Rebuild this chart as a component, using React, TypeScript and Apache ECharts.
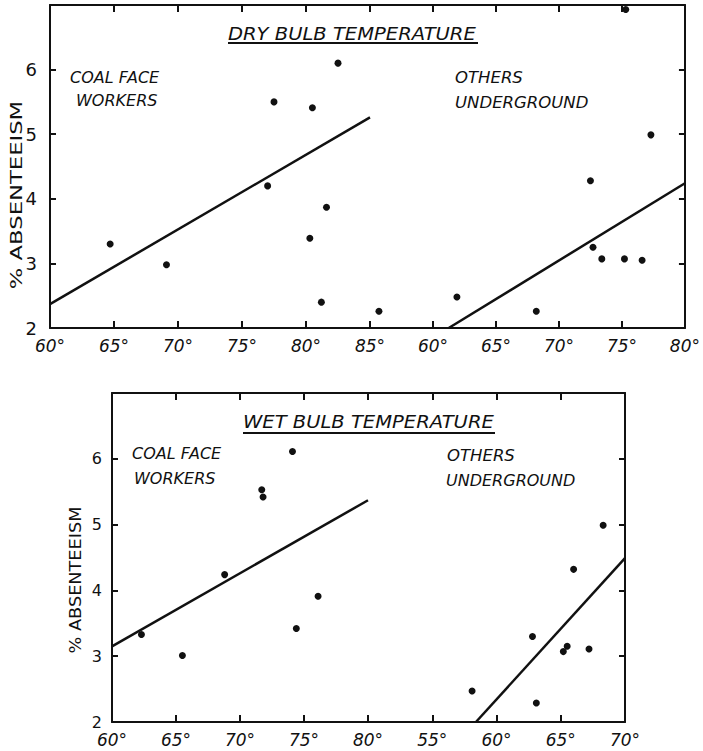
import React, { useEffect, useRef } from 'react';
import * as echarts from 'echarts';

// ---- Dry bulb temperature panel ----
const dryCoalTemp = [64.7, 69.1, 77.0, 77.5, 80.3, 80.5, 81.2, 81.6, 82.5, 85.7];
const dryCoalAbs = [3.3, 2.98, 4.2, 5.5, 3.39, 5.41, 2.4, 3.87, 6.1, 2.26];
const dryOtherTemp = [61.9, 68.2, 72.5, 72.7, 73.4, 75.2, 75.3, 76.6, 77.3];
const dryOtherAbs = [2.48, 2.26, 4.28, 3.25, 3.07, 3.07, 6.93, 3.05, 4.99];
const dryCoalFitTemp = [60, 85];
const dryCoalFitAbs = [2.37, 5.26];
const dryOtherFitTemp = [61.25, 80];
const dryOtherFitAbs = [2, 4.24];

// ---- Wet bulb temperature panel ----
const wetCoalTemp = [62.3, 65.5, 68.8, 71.7, 71.8, 74.1, 74.4, 76.1];
const wetCoalAbs = [3.33, 3.01, 4.24, 5.53, 5.42, 6.11, 3.42, 3.91];
const wetOtherTemp = [58.1, 62.8, 63.1, 65.2, 65.5, 66.0, 67.2, 68.3];
const wetOtherAbs = [2.47, 3.3, 2.29, 3.07, 3.15, 4.32, 3.11, 4.99];
const wetCoalFitTemp = [60, 80];
const wetCoalFitAbs = [3.15, 5.37];
const wetOtherFitTemp = [58.4, 70];
const wetOtherFitAbs = [2, 4.49];

// axis ranges (degrees F) for each sub-panel: dry coal, dry others, wet coal, wet others
const xRanges = [[60, 85], [55, 80], [60, 80], [50, 70]];
const yMin = 2;
const yMax = 7;

const titleDry = 'DRY BULB TEMPERATURE';
const titleWet = 'WET BULB TEMPERATURE';
const yName = '% ABSENTEEISM';

function pairs(xs: number[], ys: number[]) {
  return xs.map((x, i) => [x, ys[i]]);
}

const INK = '#111';
const FONT = 'DejaVu Sans';

export default function App() {
  const ref = useRef<HTMLDivElement>(null);
  useEffect(() => {
    const chart = echarts.init(ref.current!, null, { renderer: 'svg' });
    const grids = [
      { left: 50, top: 5, width: 320, height: 323 },
      { left: 370, top: 5, width: 320, height: 323 },
      { left: 112, top: 393, width: 256, height: 329 },
      { left: 368, top: 393, width: 257, height: 329 },
    ];
    const xAxis: any[] = [];
    const yAxis: any[] = [];
    grids.forEach((g, i) => {
      const isRight = i % 2 === 1;
      const isTop = i < 2;
      const [min, max] = xRanges[i];
      const line = { show: true, onZero: false, lineStyle: { color: INK, width: 2 } };
      const tick = { show: true, inside: true, length: 7, lineStyle: { color: INK, width: 2 } };
      xAxis.push({
        type: 'value', gridIndex: i, position: 'bottom', min, max, interval: 5,
        axisLine: line, axisTick: tick,
        axisLabel: {
          show: true, showMinLabel: !isRight, showMaxLabel: true,
          fontFamily: FONT, fontStyle: 'italic', fontSize: 17, color: INK, margin: 9,
          formatter: (v: number) => v + '°',
        },
        splitLine: { show: false },
      });
      xAxis.push({
        type: 'value', gridIndex: i, position: 'top', min, max, interval: 5,
        axisLine: line, axisTick: tick, axisLabel: { show: false }, splitLine: { show: false },
      });
      yAxis.push({
        type: 'value', gridIndex: i, position: isRight ? 'right' : 'left', min: yMin, max: yMax, interval: 1,
        axisLine: line, axisTick: { ...tick, length: 6 },
        axisLabel: {
          show: !isRight, showMaxLabel: false, fontFamily: FONT, fontSize: isTop ? 18 : 16,
          color: INK, margin: isTop ? 13 : 10,
        },
        splitLine: { show: false },
      });
    });

    const scatter = (i: number, xs: number[], ys: number[]) => ({
      type: 'scatter', xAxisIndex: 2 * i, yAxisIndex: i, data: pairs(xs, ys),
      symbol: 'circle', symbolSize: 7, itemStyle: { color: INK, opacity: 1 }, clip: false, silent: true,
    });
    const fit = (i: number, xs: number[], ys: number[]) => ({
      type: 'line', xAxisIndex: 2 * i, yAxisIndex: i, data: pairs(xs, ys),
      showSymbol: false, symbol: 'none', lineStyle: { color: INK, width: 2.5 }, clip: true, silent: true,
    });

    const txt = (text: string, x: number, y: number, size: number, opts: any = {}) => ({
      type: 'text', x, y, rotation: opts.rotation || 0, scaleX: opts.scaleX || 1,
      style: {
        text, fill: INK, fontFamily: FONT, fontSize: size, fontStyle: opts.italic === false ? 'normal' : 'italic',
        align: opts.align || 'left', textAlign: opts.align || 'left',
        verticalAlign: 'middle', textVerticalAlign: 'middle',
      },
    });

    chart.setOption({
      animation: false,
      backgroundColor: '#fff',
      grid: grids.map((g) => ({ ...g, containLabel: false })),
      xAxis, yAxis,
      series: [
        scatter(0, dryCoalTemp, dryCoalAbs),
        scatter(1, dryOtherTemp, dryOtherAbs),
        fit(0, dryCoalFitTemp, dryCoalFitAbs),
        fit(1, dryOtherFitTemp, dryOtherFitAbs),
        scatter(2, wetCoalTemp, wetCoalAbs),
        scatter(3, wetOtherTemp, wetOtherAbs),
        fit(2, wetCoalFitTemp, wetCoalFitAbs),
        fit(3, wetOtherFitTemp, wetOtherFitAbs),
      ],
      graphic: [
        txt(titleDry, 228, 34, 17, { scaleX: 1.15 }),
        { type: 'line', shape: { x1: 228, y1: 43, x2: 478, y2: 43 }, style: { stroke: INK, lineWidth: 2 } },
        txt(titleWet, 243, 422, 17, { scaleX: 1.15 }),
        { type: 'line', shape: { x1: 243, y1: 433, x2: 495, y2: 433 }, style: { stroke: INK, lineWidth: 2 } },
        txt('COAL FACE', 70, 77, 16),
        txt('WORKERS', 76, 100, 16),
        txt('OTHERS', 455, 77, 16.5),
        txt('UNDERGROUND', 455, 102, 16.5),
        txt('COAL FACE', 132, 453, 16),
        txt('WORKERS', 134, 478, 16),
        txt('OTHERS', 447, 455, 16.5),
        txt('UNDERGROUND', 446, 480, 16),
        txt(yName, 17, 195, 16, { rotation: Math.PI / 2, align: 'center', italic: false, scaleX: 1.42 }),
        txt(yName, 76, 580, 15, { rotation: Math.PI / 2, align: 'center', italic: false, scaleX: 1.18 }),
      ],
    });
    return () => chart.dispose();
  }, []);
  return (
    <div
      ref={ref}
      style={{ position: 'absolute', left: 0, top: 0, width: 703, height: 751, background: '#fff' }}
    />
  );
}
